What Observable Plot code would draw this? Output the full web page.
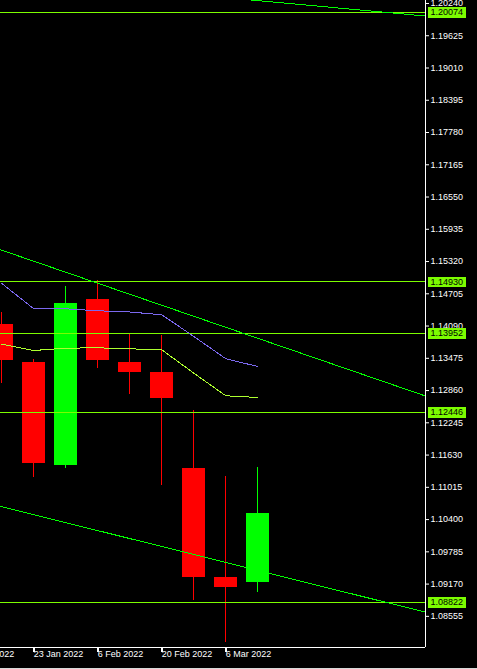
<!DOCTYPE html>
<html>
<head>
<meta charset="utf-8">
<script src="https://cdn.jsdelivr.net/npm/d3@7"></script>
<script src="https://cdn.jsdelivr.net/npm/@observablehq/plot@0.6"></script>
<style>
  html, body { margin: 0; padding: 0; background: #000; overflow: hidden; }
  #chart svg { display: block; }
  #strip { height: 1px; background: #d8d8d8; }
</style>
</head>
<body>
<div id="chart"></div>
<div id="strip"></div>
<script>
// Weekly candles (EURUSD-like)
const weeks  = ["2022-01-16","2022-01-23","2022-01-30","2022-02-06","2022-02-13","2022-02-20","2022-02-27","2022-03-06","2022-03-13"];
const opens  = [1.14120, 1.13395, 1.11437, 1.14596, 1.13395, 1.13205, 1.11374, 1.09296, 1.09201];
const highs  = [1.14348, 1.13452, 1.14844, 1.14959, 1.13954, 1.13910, 1.12480, 1.11222, 1.11393];
const lows   = [1.12995, 1.11208, 1.11374, 1.13287, 1.12791, 1.11056, 1.08863, 1.08063, 1.09010];
const closes = [1.13439, 1.11475, 1.14520, 1.13439, 1.13210, 1.12714, 1.09302, 1.09105, 1.10516];

// Moving averages
const maBlue   = [1.14901, 1.14419, 1.14419, 1.14381, 1.14358, 1.14305, 1.13891, 1.13466, 1.13319];
const maYellow = [1.13744, 1.13624, 1.13668, 1.13675, 1.13656, 1.13637, 1.13191, 1.12760, 1.12728];

// Horizontal price levels
const levels = [1.20074, 1.14930, 1.13952, 1.12446, 1.08822];

// Trendlines: start and end prices at the chart's left and right edges
const trendStartDate = "2022-01-15T17:00Z";
const trendEndDate   = "2022-04-18T16:17Z";
const trendTop    = [1.20747, 1.20001];
const trendMiddle = [1.15544, 1.12756];
const trendBottom = [1.10652, 1.08634];

// Axis ticks
const yTicks = [1.20240, 1.19625, 1.19010, 1.18395, 1.17780, 1.17165, 1.16550, 1.15935, 1.15320, 1.14705,
                1.14090, 1.13475, 1.12860, 1.12245, 1.11630, 1.11015, 1.10400, 1.09785, 1.09170, 1.08555];
const xTickDates  = ["2022-01-09","2022-01-23","2022-02-06","2022-02-20","2022-03-06"];
const xTickLabels = ["9 Jan 2022","23 Jan 2022","6 Feb 2022","20 Feb 2022","6 Mar 2022"];

const yDomain = [1.07961, 1.20297];
const xDomain = [new Date(trendStartDate), new Date(trendEndDate)];

const candles = weeks.map((w, i) => ({
  date: new Date(w + "T00:00Z"), open: opens[i], high: highs[i], low: lows[i], close: closes[i],
  up: closes[i] >= opens[i]
}));
const maB = weeks.map((w, i) => ({date: new Date(w + "T00:00Z"), v: maBlue[i]}));
const maY = weeks.map((w, i) => ({date: new Date(w + "T00:00Z"), v: maYellow[i]}));
const trendData = [trendTop, trendMiddle, trendBottom].flatMap((t, k) => [
  {k, date: new Date(trendStartDate), v: t[0]},
  {k, date: new Date(trendEndDate), v: t[1]}
]);
const xTicks = xTickDates.map((d, i) => ({date: new Date(d + "T00:00Z"), label: xTickLabels[i]}));

const levelColor = "#7cfc00";
const boxSymbol = { draw(ctx) { ctx.rect(2, -5, 38.5, 10.5); } };
const tickSymbol = { draw(ctx) { ctx.moveTo(0, 0); ctx.lineTo(0, 4); } };
const crisp = {shapeRendering: "crispEdges"};

const chart = Plot.plot({
  width: 477,
  height: 668,
  marginLeft: 0,
  marginRight: 52,
  marginTop: 0,
  marginBottom: 21,
  style: {background: "#000", color: "#fff", fontFamily: "'Liberation Sans', Arial, sans-serif", fontSize: "9px", overflow: "hidden"},
  x: {type: "utc", domain: xDomain, axis: null},
  y: {domain: yDomain, axis: "right", ticks: yTicks, tickFormat: d => d.toFixed(5), tickSize: 3, tickPadding: 2, label: null},
  marks: [
    // wicks
    Plot.ruleX(candles, {x: "date", y1: "low", y2: "high", stroke: d => d.up ? "#00ff00" : "#ff0000", strokeWidth: 1, clip: true, ...crisp}),
    // bodies
    Plot.ruleX(candles, {x: "date", y1: "open", y2: "close", stroke: d => d.up ? "#00ff00" : "#ff0000", strokeWidth: 23, clip: true, ...crisp}),
    // horizontal levels
    Plot.ruleY(levels, {stroke: levelColor, strokeWidth: 1, ...crisp}),
    // trendlines
    Plot.line(trendData, {x: "date", y: "v", z: "k", stroke: "#00ff00", strokeWidth: 1, clip: true, ...crisp}),
    // moving averages
    Plot.line(maB, {x: "date", y: "v", stroke: "#7b68ee", strokeWidth: 1, clip: true, ...crisp}),
    Plot.line(maY, {x: "date", y: "v", stroke: "#adff2f", strokeWidth: 1, clip: true, ...crisp}),
    // frame lines (right and bottom)
    Plot.ruleX([xDomain[1]], {stroke: "#fff", ...crisp}),
    Plot.ruleY([yDomain[0]], {stroke: "#fff", ...crisp}),
    // bottom axis ticks and labels
    Plot.dot(xTicks, {x: "date", frameAnchor: "bottom", symbol: tickSymbol, stroke: "#fff", fill: "none", ...crisp}),
    Plot.text(xTicks, {x: "date", text: "label", frameAnchor: "bottom", dy: 9, textAnchor: "start", fill: "#fff"}),
    // level labels
    Plot.dot(levels, {y: d => d, frameAnchor: "right", symbol: boxSymbol, fill: levelColor, stroke: "none", ...crisp}),
    Plot.text(levels, {y: d => d, frameAnchor: "right", text: d => d.toFixed(5), textAnchor: "start", dx: 5, fill: "#000"})
  ]
});
document.getElementById("chart").appendChild(chart);
</script>
</body>
</html>
